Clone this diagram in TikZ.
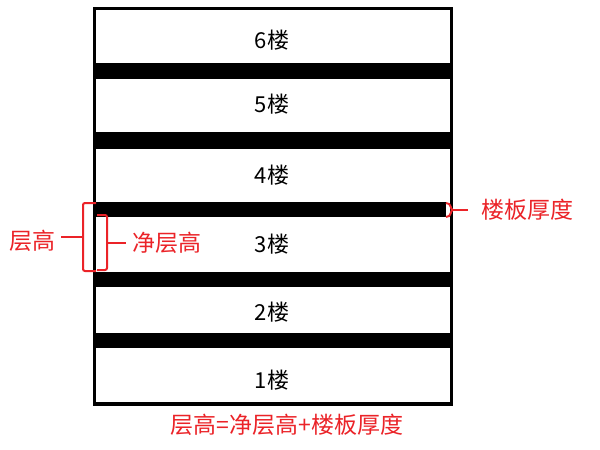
\documentclass[tikz,border=0pt]{standalone}
\usepackage{fontspec}
\setmainfont{Noto Sans CJK SC}
\begin{document}
\begin{tikzpicture}[x=1pt,y=-1pt,
  floorlbl/.style={font=\fontsize{22}{22}\selectfont, text=black, inner sep=0pt},
  redlbl/.style={font=\fontsize{23}{23}\selectfont, text=lblred, inner sep=0pt},
  slab/.style={fill=black, draw=none},
  brk/.style={draw=lblred, line width=2pt, rounded corners=2pt}]
\definecolor{lblred}{RGB}{235,35,40}
\useasboundingbox (0,0) rectangle (600,450);
\fill[white] (0,0) rectangle (600,450);
% slabs
\fill[slab] (95,63) rectangle (451,79);
\fill[slab] (95,132) rectangle (451,149);
\fill[slab] (95,202) rectangle (446,217);
\fill[slab] (95,272) rectangle (451,287);
\fill[slab] (95,333) rectangle (451,348);
% outer frame
\draw[line width=3.5pt] (94.5,8.5) rectangle (451.5,404);
% floor labels
\node[floorlbl] (f6) at (272,40) {6楼};
\node[floorlbl] (f5) at (272,104) {5楼};
\node[floorlbl] (f4) at (272,175) {4楼};
\node[floorlbl] (f3) at (272,244) {3楼};
\node[floorlbl] (f2) at (272,312) {2楼};
\node[floorlbl] (f1) at (272,380) {1楼};
% left bracket: storey height
\coordinate (cgA) at (83,237);
\draw[brk] (96,203) -- (83,203) -- (83,271) -- (96,271);
\node[redlbl, anchor=east] (cg) at (56,241) {层高};
\draw[lblred, line width=2pt] (cgA) -- (61,237);
% small bracket: clear height
\coordinate (jcA) at (107,243);
\draw[brk] (97,215) -- (107,215) -- (107,270) -- (97,270);
\node[redlbl, anchor=west] (jc) at (132,243) {净层高};
\draw[lblred, line width=2pt] (jcA) -- (126,243);
% right brace: slab thickness
\coordinate (lbA) at (453,210);
\draw[lblred, line width=2pt] (446,203) .. controls (452,203) and (450,210) .. (lbA) .. controls (450,210) and (452,217) .. (446,217);
\node[redlbl, anchor=west] (lb) at (481,210) {楼板厚度};
\draw[lblred, line width=2pt] (lbA) -- (468,210);
% formula
\node[redlbl] (eq) at (287,425) {层高=净层高+楼板厚度};
\end{tikzpicture}
\end{document}
